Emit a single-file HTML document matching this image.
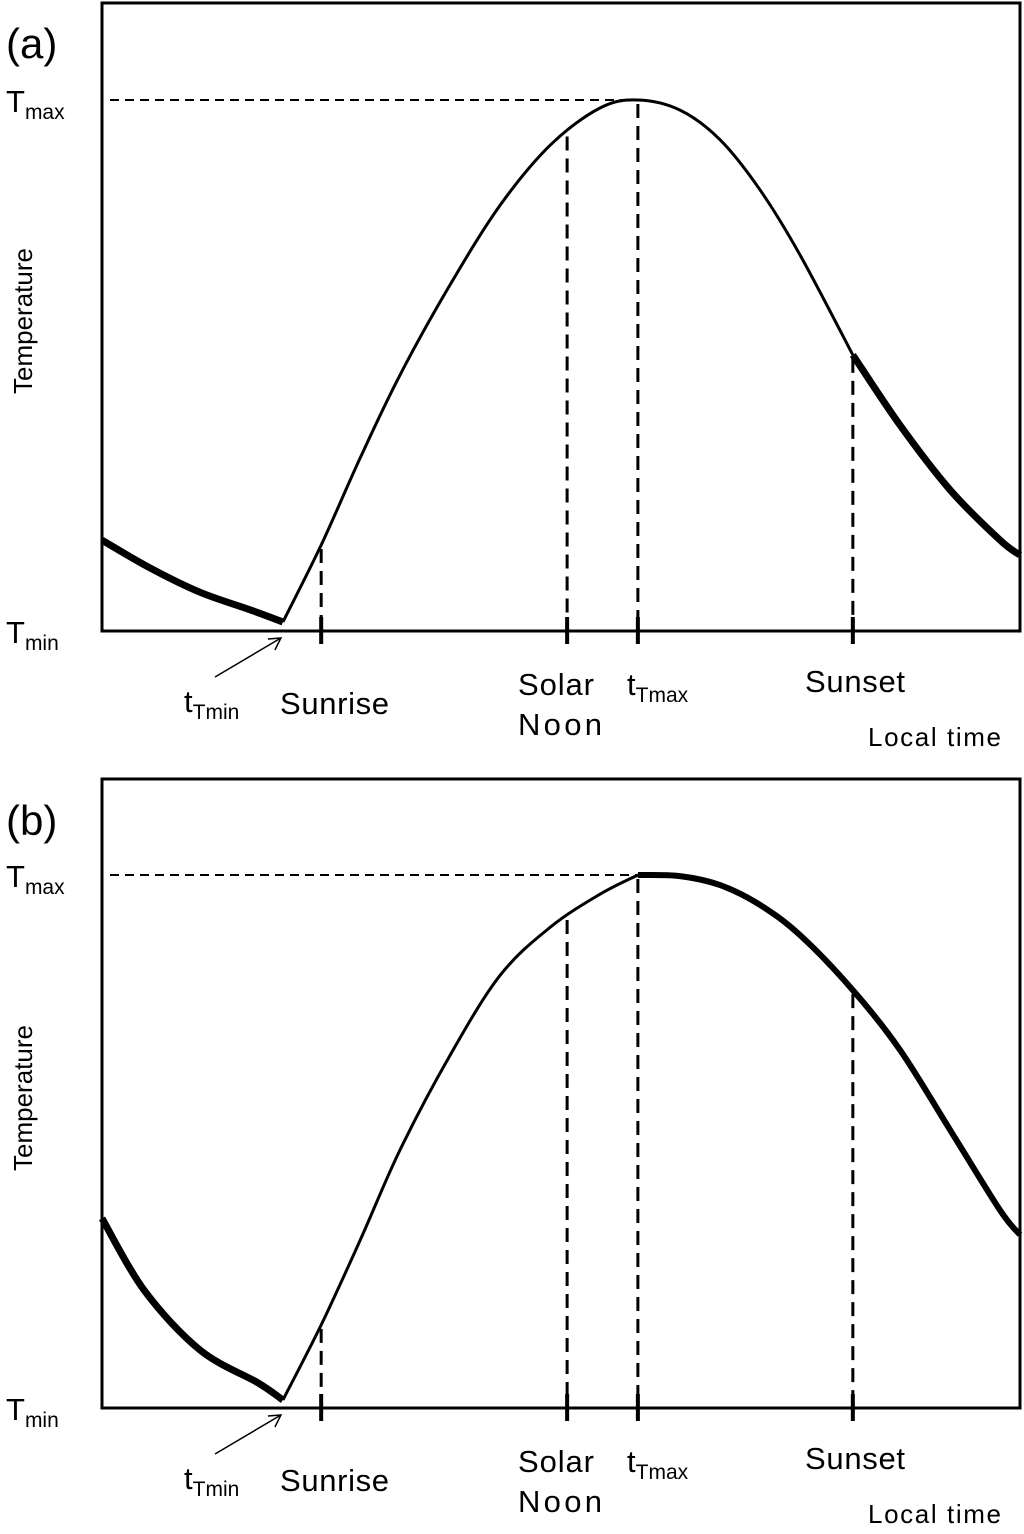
<!DOCTYPE html>
<html><head><meta charset="utf-8"><style>
html,body{margin:0;padding:0;background:#fff}
svg text{font-family:"Liberation Sans",sans-serif;fill:#000}
</style></head><body>
<svg id="fig" width="1024" height="1529" viewBox="0 0 1024 1529" xmlns="http://www.w3.org/2000/svg"></svg>
<script>
// Panel (a) data: time in hours (0-24), temperature normalized (0 = Tmin, 1 = Tmax)
const aNightT = [0, 1.25, 2.56, 3.87, 4.73];
const aNightV = [0.171, 0.119, 0.073, 0.040, 0.017];
const aDayT = [4.73, 5.73, 6.75, 7.79, 9.10, 10.41, 11.72, 13.02, 14.01, 15.11, 16.16, 17.20, 18.25, 19.63];
const aDayV = [0.017, 0.162, 0.326, 0.482, 0.652, 0.802, 0.915, 0.985, 1.0, 0.981, 0.925, 0.831, 0.708, 0.520];
const aEveT = [19.63, 20.86, 22.17, 23.48, 24];
const aEveV = [0.520, 0.388, 0.266, 0.171, 0.143];
// Panel (b) data
const bNightT = [0, 1.10, 2.56, 4.08, 4.73];
const bNightV = [0.356, 0.221, 0.109, 0.047, 0.015];
const bDayT = [4.73, 5.73, 6.75, 7.79, 9.10, 10.41, 11.72, 13.02, 14.01];
const bDayV = [0.015, 0.156, 0.315, 0.484, 0.662, 0.812, 0.902, 0.964, 1.0];
const bEveT = [14.01, 15.11, 16.16, 17.20, 18.25, 19.63, 20.86, 22.17, 23.48, 24];
const bEveV = [1.0, 0.998, 0.981, 0.944, 0.887, 0.784, 0.672, 0.522, 0.371, 0.325];
// event times (hours)
const eventNames = ["sunrise", "solar-noon", "t-tmax", "sunset"];
const eventTimes = [5.73, 12.16, 14.01, 19.63];
const tTmin = 4.73;

const NS = "http://www.w3.org/2000/svg";
const svg = document.getElementById("fig");
function el(tag, attrs, parent) {
  const e = document.createElementNS(NS, tag);
  for (const k in attrs) e.setAttribute(k, attrs[k]);
  (parent || svg).appendChild(e);
  return e;
}
function xs(t) { return 102 + t / 24 * 918; }

function interp(T, V, t) {
  for (let i = 0; i < T.length - 1; i++) {
    if (t >= T[i] && t <= T[i + 1]) return V[i] + (V[i + 1] - V[i]) * (t - T[i]) / (T[i + 1] - T[i]);
  }
  return V[V.length - 1];
}
function smoothPath(P) {
  let d = "M" + P[0][0].toFixed(1) + "," + P[0][1].toFixed(1);
  for (let i = 0; i < P.length - 1; i++) {
    const p0 = P[i - 1] || P[i], p1 = P[i], p2 = P[i + 1], p3 = P[i + 2] || P[i + 1];
    const c1 = [p1[0] + (p2[0] - p0[0]) / 6, p1[1] + (p2[1] - p0[1]) / 6];
    const c2 = [p2[0] - (p3[0] - p1[0]) / 6, p2[1] - (p3[1] - p1[1]) / 6];
    d += " C" + c1[0].toFixed(1) + "," + c1[1].toFixed(1) + " " + c2[0].toFixed(1) + "," + c2[1].toFixed(1) + " " + p2[0].toFixed(1) + "," + p2[1].toFixed(1);
  }
  return d;
}

function panel(id, top, yTmin, yTmax, series, allT, allV) {
  const g = el("g", {});
  
  
  const ys = v => yTmin - v * (yTmin - yTmax);
  const fr = el("rect", {x: 102, y: top, width: 918, height: yTmin - top, fill: "none", stroke: "#000", "stroke-width": 3}, g);
  
  
  const hd = el("line", {x1: 110, y1: yTmax, x2: xs(eventTimes[2]), y2: yTmax, stroke: "#000", "stroke-width": 2, "stroke-dasharray": "9,6"}, g);
  
  
  eventTimes.forEach((t, i) => {
    const x = xs(t);
    const v = interp(allT, allV, t);
    const d = el("line", {x1: x, y1: ys(v) + 4, x2: x, y2: yTmin, stroke: "#000", "stroke-width": 3, "stroke-dasharray": "14,8"}, g);
    
    
    const tk = el("line", {x1: x, y1: yTmin - 14, x2: x, y2: yTmin + 13, stroke: "#000", "stroke-width": 4}, g);
    
    
  });
  series.forEach(s => {
    const P = s.T.map((t, i) => [xs(t), ys(s.V[i])]);
    const p = el("path", {d: smoothPath(P), fill: "none", stroke: "#000", "stroke-width": s.w, "stroke-linejoin": "round", "stroke-linecap": "butt"}, g);
    
    
  });
  const o = yTmin - 631;
  function txt(x, y, size, content, name, extra) {
    const t = el("text", Object.assign({x: x, y: y + o, "font-size": size}, extra || {}), g);
    t.innerHTML = content;
    
    
    return t;
  }
  txt(6, 58, 42, "(" + id + ")", "panel-label");
  txt(6, 112, 31, 'T<tspan font-size="21" dy="7">max</tspan>', "tmax-label", {y: yTmax + 12});
  txt(6, 643, 31, 'T<tspan font-size="21" dy="7">min</tspan>', "tmin-label");
  const yl = txt(0, 0, 26, "Temperature", "y-axis-title", {transform: "translate(32," + (321 + o) + ") rotate(-90)", "text-anchor": "middle"});
  yl.setAttribute("y", 0);
  txt(184, 712, 31, 't<tspan font-size="21" dy="7">Tmin</tspan>', "t-tmin-label");
  txt(280, 714, 31, "Sunrise", "sunrise-label", {textLength: 109});
  txt(518, 695, 31, "Solar", "solar-noon-label-line1", {textLength: 76});
  txt(518, 735, 31, "Noon", "solar-noon-label-line2", {textLength: 84});
  txt(627, 695, 31, 't<tspan font-size="21" dy="7">Tmax</tspan>', "t-tmax-label");
  txt(805, 692, 31, "Sunset", "sunset-label", {textLength: 100});
  txt(868, 746, 26, "Local time", "x-axis-title", {textLength: 133});
  const ax = xs(tTmin) - 2, ay = yTmin + 7;
  const ar = el("line", {x1: 215, y1: 677 + o, x2: ax, y2: ay, stroke: "#000", "stroke-width": 1.5}, g);
  
  
  const ah = el("polyline", {points: (ax - 13) + "," + (ay + 1) + " " + ax + "," + ay + " " + (ax - 6) + "," + (ay + 12), fill: "none", stroke: "#000", "stroke-width": 1.5}, g);
  
  
}

panel("a", 3, 631, 100, [
  {T: aNightT, V: aNightV, w: 7, name: "night-cooling-curve"},
  {T: aDayT, V: aDayV, w: 3, name: "daytime-curve"},
  {T: aEveT, V: aEveV, w: 7, name: "evening-cooling-curve"}
], aDayT, aDayV);
panel("b", 779, 1408, 875, [
  {T: bNightT, V: bNightV, w: 7, name: "night-cooling-curve"},
  {T: bDayT, V: bDayV, w: 3, name: "morning-warming-curve"},
  {T: bEveT, V: bEveV, w: 6, name: "afternoon-cooling-curve"}
], bDayT.concat(bEveT.slice(1)), bDayV.concat(bEveV.slice(1)));
</script>
</body></html>
